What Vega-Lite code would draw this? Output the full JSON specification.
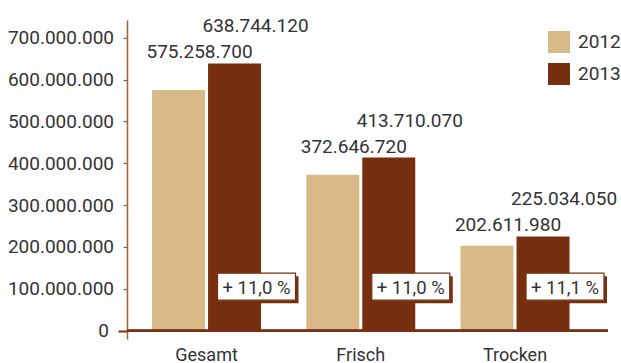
{
  "$schema": "https://vega.github.io/schema/vega-lite/v6.json",
  "width": 481,
  "height": 319,
  "autosize": {"type": "none"},
  "padding": {"left": 127, "top": 20, "right": 13, "bottom": 24},
  "config": {
    "view": {"stroke": null},
    "font": "Roboto",
    "locale": {"number": {"decimal": ",", "thousands": ".", "grouping": [3], "currency": ["", " €"]}}
  },
  "data": {
    "values": [
      {"Kategorie": "Gesamt", "Jahr": "2012", "Wert": 575258700, "Veraenderung": null},
      {"Kategorie": "Gesamt", "Jahr": "2013", "Wert": 638744120, "Veraenderung": "+ 11,0 %"},
      {"Kategorie": "Frisch", "Jahr": "2012", "Wert": 372646720, "Veraenderung": null},
      {"Kategorie": "Frisch", "Jahr": "2013", "Wert": 413710070, "Veraenderung": "+ 11,0 %"},
      {"Kategorie": "Trocken", "Jahr": "2012", "Wert": 202611980, "Veraenderung": null},
      {"Kategorie": "Trocken", "Jahr": "2013", "Wert": 225034050, "Veraenderung": "+ 11,1 %"}
    ]
  },
  "transform": [
    {"joinaggregate": [{"op": "max", "field": "Wert", "as": "Gruppenmax"}], "groupby": ["Kategorie"]}
  ],
  "layer": [
    {
      "mark": {"type": "bar"},
      "encoding": {
        "x": {"field": "Kategorie", "type": "nominal", "sort": ["Gesamt", "Frisch", "Trocken"],
          "scale": {"paddingInner": 0.2934, "paddingOuter": 0.2059, "align": 0.394},
          "axis": {"title": null, "domain": false, "ticks": false, "labelAngle": 0, "labelFontSize": 18, "labelColor": "#333333", "labelPadding": 7, "labelFont": "Roboto"}},
        "xOffset": {"field": "Jahr", "type": "nominal", "sort": ["2012", "2013"], "scale": {"paddingInner": 0.054}},
        "y": {"field": "Wert", "type": "quantitative",
          "scale": {"domain": [-20000000, 742500000], "nice": false},
          "axis": {"title": null, "grid": false,
            "values": [0, 100000000, 200000000, 300000000, 400000000, 500000000, 600000000, 700000000],
            "format": ",d", "labelFontSize": 19, "labelColor": "#333333", "labelFont": "Roboto", "labelPadding": 9.5,
            "domainColor": "#A0603A", "domainWidth": 1.5,
            "tickColor": {"condition": {"test": "datum.value === 0", "value": "#7A3010"}, "value": "#666666"},
            "tickSize": {"condition": {"test": "datum.value === 0", "value": 9}, "value": 4},
            "tickWidth": {"condition": {"test": "datum.value === 0", "value": 2}, "value": 1.2}}},
        "color": {"field": "Jahr", "type": "nominal",
          "scale": {"domain": ["2012", "2013"], "range": ["#D8BA89", "#763010"]},
          "legend": {"title": null, "orient": "none", "legendX": 421, "legendY": 11, "padding": 0,
            "symbolType": "square", "symbolSize": 484, "symbolStrokeWidth": 0, "symbolOpacity": 1,
            "labelFontSize": 19, "labelFont": "Roboto", "labelColor": "#333333", "labelOffset": 8, "rowPadding": 10}}
      }
    },
    {
      "mark": {"type": "rule", "color": "#7A3010", "strokeWidth": 2},
      "encoding": {"y": {"datum": 0}}
    },
    {
      "transform": [{"filter": "datum.Jahr === '2013'"}],
      "mark": {"type": "text", "dx": 21, "dy": -37, "fontSize": 19, "color": "#333333", "font": "Roboto"},
      "encoding": {
        "x": {"field": "Kategorie", "type": "nominal", "sort": ["Gesamt", "Frisch", "Trocken"]},
        "xOffset": {"field": "Jahr", "type": "nominal", "sort": ["2012", "2013"]},
        "y": {"field": "Gruppenmax", "type": "quantitative"},
        "text": {"field": "Wert", "type": "quantitative", "format": ",d"}
      }
    },
    {
      "transform": [{"filter": "datum.Jahr === '2012'"}],
      "mark": {"type": "text", "dx": 21, "dy": -11, "fontSize": 19, "color": "#333333", "font": "Roboto"},
      "encoding": {
        "x": {"field": "Kategorie", "type": "nominal", "sort": ["Gesamt", "Frisch", "Trocken"]},
        "xOffset": {"field": "Jahr", "type": "nominal", "sort": ["2012", "2013"]},
        "y": {"field": "Gruppenmax", "type": "quantitative"},
        "text": {"field": "Wert", "type": "quantitative", "format": ",d"}
      }
    },
    {
      "transform": [{"filter": "datum.Jahr === '2013'"}],
      "mark": {"type": "point", "shape": "M-0.359,-0.269 L1.641,-0.269 L1.641,0.423 L-0.359,0.423 Z", "size": 6084, "filled": true, "color": "#763010", "opacity": 1, "strokeWidth": 0},
      "encoding": {
        "x": {"field": "Kategorie", "type": "nominal", "sort": ["Gesamt", "Frisch", "Trocken"]},
        "xOffset": {"field": "Jahr", "type": "nominal", "sort": ["2012", "2013"]},
        "y": {"datum": 105000000}
      }
    },
    {
      "transform": [{"filter": "datum.Jahr === '2013'"}],
      "mark": {"type": "point", "shape": "M-0.436,-0.346 L1.564,-0.346 L1.564,0.346 L-0.436,0.346 Z", "size": 6084, "filled": true, "fill": "#FFFFFF", "stroke": "#763010", "strokeWidth": 1.2, "opacity": 1},
      "encoding": {
        "x": {"field": "Kategorie", "type": "nominal", "sort": ["Gesamt", "Frisch", "Trocken"]},
        "xOffset": {"field": "Jahr", "type": "nominal", "sort": ["2012", "2013"]},
        "y": {"datum": 105000000}
      }
    },
    {
      "transform": [{"filter": "datum.Jahr === '2013'"}],
      "mark": {"type": "text", "dx": 22, "dy": 1, "baseline": "middle", "fontSize": 18.5, "color": "#333333", "font": "Roboto"},
      "encoding": {
        "x": {"field": "Kategorie", "type": "nominal", "sort": ["Gesamt", "Frisch", "Trocken"]},
        "xOffset": {"field": "Jahr", "type": "nominal", "sort": ["2012", "2013"]},
        "y": {"datum": 105000000},
        "text": {"field": "Veraenderung", "type": "nominal"}
      }
    }
  ]
}
